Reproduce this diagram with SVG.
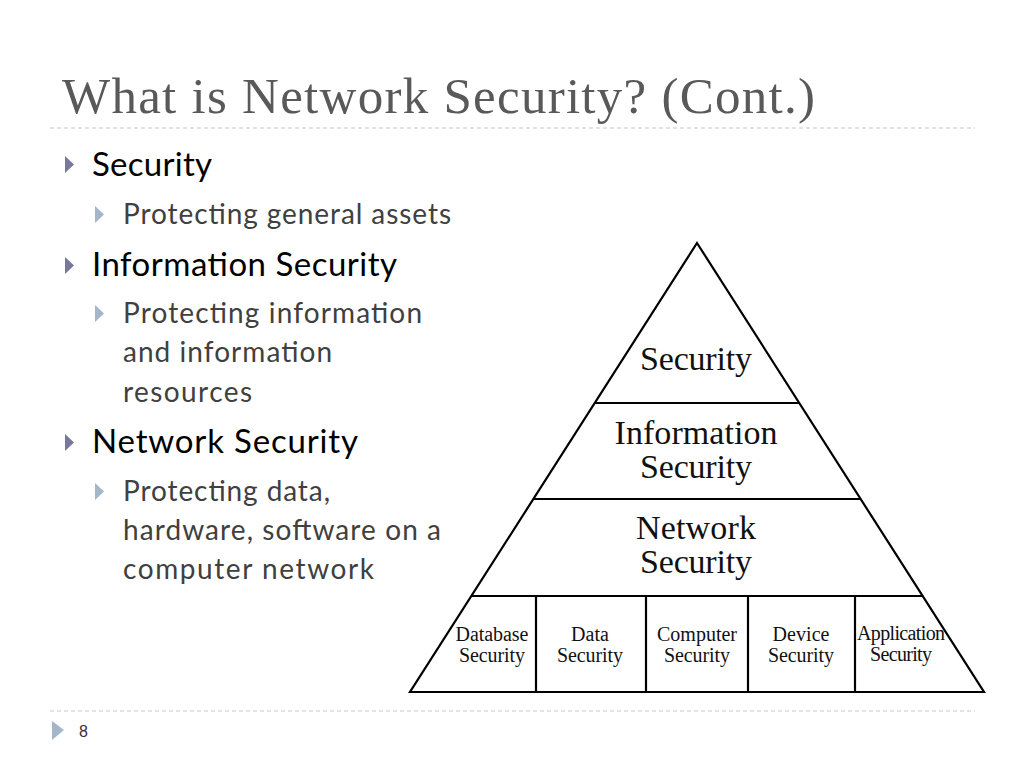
<svg xmlns="http://www.w3.org/2000/svg" width="1024" height="768" viewBox="0 0 1024 768">
<style>
.title{font-family:"Liberation Serif",serif;font-size:51px;fill:#595959}
.l1{font-family:Lato,"Liberation Sans",sans-serif;font-size:33px;fill:#000}
.l2{font-family:Lato,"Liberation Sans",sans-serif;font-size:28px;fill:#404040}
.b1{fill:#78789c}
.b2{fill:#a6b6ca}
.dash{stroke:#c8c8c8;stroke-width:1.2;stroke-dasharray:4 3;fill:none}
.pl{stroke:#000;stroke-width:2.2;fill:none}
.pt{font-family:"Liberation Serif",serif;font-size:34px;fill:#111;text-anchor:middle}
.ps{font-family:"Liberation Serif",serif;font-size:20px;fill:#111;text-anchor:middle}
</style>
<rect width="1024" height="768" fill="#fff"/>
<text class="title" x="62" y="113" textLength="753">What is Network Security? (Cont.)</text>
<line class="dash" x1="50" y1="128" x2="975" y2="128"/>
<g id="bullets">
<polygon class="b1" points="65,156 74,164.5 65,173"/>
<text class="l1" x="92" y="176" textLength="120">Security</text>
<polygon class="b2" points="95,206 104,214.5 95,223"/>
<text class="l2" x="123" y="224" textLength="328">Protecting general assets</text>
<polygon class="b1" points="65,257 74,265.5 65,274"/>
<text class="l1" x="92" y="276" textLength="305">Information Security</text>
<polygon class="b2" points="95,305 104,313.5 95,322"/>
<text class="l2" x="123" y="323" textLength="299">Protecting information</text>
<text class="l2" x="123" y="362" textLength="209">and information</text>
<text class="l2" x="123" y="402" textLength="129">resources</text>
<polygon class="b1" points="65,434 74,442.5 65,451"/>
<text class="l1" x="92" y="453" textLength="266">Network Security</text>
<polygon class="b2" points="95,483 104,491.5 95,500"/>
<text class="l2" x="123" y="501" textLength="207">Protecting data,</text>
<text class="l2" x="123" y="540" textLength="318">hardware, software on a</text>
<text class="l2" x="123" y="579" textLength="251">computer network</text>
</g>
<g id="pyramid">
<polygon class="pl" points="697,243 984,692 410,692"/>
<g id="connectors">
<line class="pl" x1="595" y1="403" x2="799" y2="403"/>
<line class="pl" x1="533" y1="499" x2="861" y2="499"/>
<line class="pl" x1="472" y1="596" x2="922" y2="596"/>
<line class="pl" x1="536" y1="596" x2="536" y2="692"/>
<line class="pl" x1="646" y1="596" x2="646" y2="692"/>
<line class="pl" x1="748" y1="596" x2="748" y2="692"/>
<line class="pl" x1="855" y1="596" x2="855" y2="692"/>
</g>
<g id="n-security"><text class="pt" x="696" y="370" textLength="112">Security</text></g>
<g id="n-information"><text class="pt" x="696" y="444" textLength="163">Information</text><text class="pt" x="696" y="478" textLength="112">Security</text></g>
<g id="n-network"><text class="pt" x="696" y="539" textLength="120">Network</text><text class="pt" x="696" y="573" textLength="112">Security</text></g>
<g id="n-database"><text class="ps" x="492" y="641" textLength="73">Database</text><text class="ps" x="492" y="662" textLength="66">Security</text></g>
<g id="n-data"><text class="ps" x="590" y="641">Data</text><text class="ps" x="590" y="662" textLength="66">Security</text></g>
<g id="n-computer"><text class="ps" x="697" y="641" textLength="80">Computer</text><text class="ps" x="697" y="662" textLength="66">Security</text></g>
<g id="n-device"><text class="ps" x="801" y="641" textLength="57">Device</text><text class="ps" x="801" y="662" textLength="66">Security</text></g>
<g id="n-application"><text class="ps" x="901" y="640" textLength="88">Application</text><text class="ps" x="901" y="661" textLength="62">Security</text></g>
</g>
<line class="dash" x1="50" y1="711" x2="975" y2="711"/>
<polygon class="b2" points="52,721 64,730 52,740"/>
<text x="79" y="737" style="font-family:'Liberation Sans',sans-serif;font-size:16px;fill:#333">8</text>
</svg>
